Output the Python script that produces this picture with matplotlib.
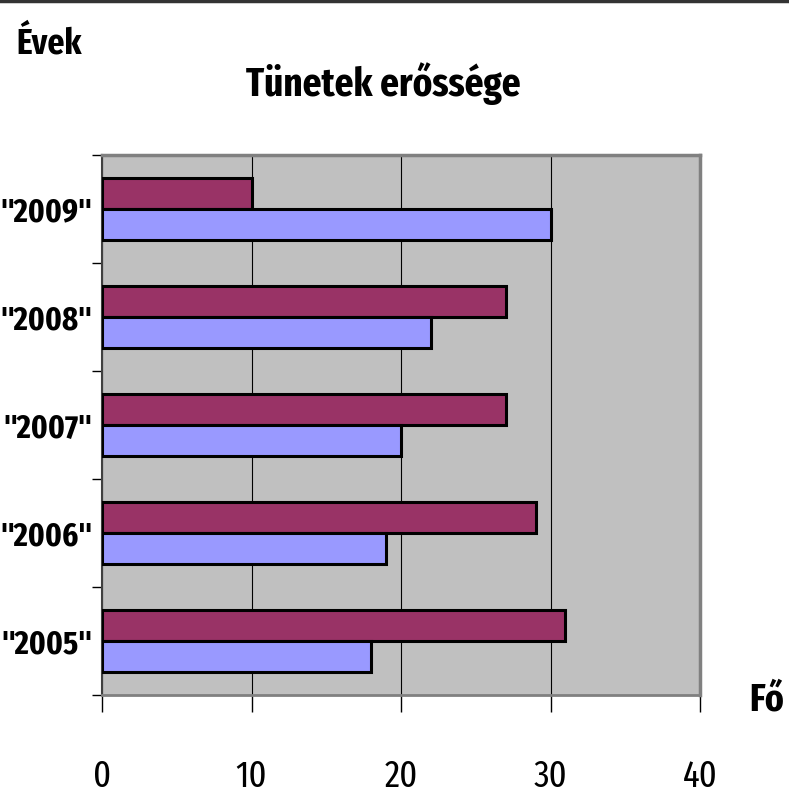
import matplotlib
matplotlib.use("Agg")
import matplotlib.pyplot as plt
import numpy as np
from matplotlib.lines import Line2D

categories = ['"2005"', '"2006"', '"2007"', '"2008"', '"2009"']
series_purple = [31, 29, 27, 27, 10]
series_blue = [18, 19, 20, 22, 30]
xticks = [0, 10, 20, 30, 40]

FONT = ['Fira Sans Extra Condensed', 'Roboto Condensed', 'DejaVu Sans']
plt.rcParams['font.family'] = FONT

fig = plt.figure(figsize=(7.89, 7.99), dpi=100)
ax = fig.add_axes([102/789, 1-695/799, (700-102)/789, (695-155)/799])
ax.set_facecolor('#C0C0C0')

y = np.arange(len(categories))
h = 0.287
ax.barh(y + h/2, series_purple, height=h, color='#993366', edgecolor='black', linewidth=2.2, zorder=3)
ax.barh(y - h/2, series_blue, height=h, color='#9999FF', edgecolor='black', linewidth=2.2, zorder=3)

ax.set_xlim(0, 40)
ax.set_ylim(-0.5, len(categories) - 0.5)
ax.set_xticks(xticks)
ax.set_xticklabels([str(t) for t in xticks], fontsize=27)
ax.tick_params(axis='x', length=12, width=1, pad=34, direction='out', colors='black')
ax.set_yticks(np.arange(len(categories) + 1) - 0.5)
ax.set_yticklabels([])
ax.set_yticks(y, minor=True)
ax.set_yticklabels(categories, minor=True, fontsize=24, fontweight='bold')
ax.tick_params(axis='y', which='major', length=7, width=1, direction='out')
ax.tick_params(axis='y', which='minor', length=0, pad=7)
ax.xaxis.grid(True, color='black', linewidth=0.8, zorder=1)
ax.set_axisbelow(True)

for s in ['top', 'right']:
    ax.spines[s].set_color('#808080')
    ax.spines[s].set_linewidth(2.5)
ax.spines['left'].set_color('#404040')
ax.spines['left'].set_linewidth(1.5)
ax.spines['bottom'].set_color('#808080')
ax.spines['bottom'].set_linewidth(2)

fig.text(383/789, 1-84/799, 'Tünetek erőssége', ha='center', va='center', fontsize=29, fontweight='bold')
fig.text(49/789, 1-44/799, 'Évek', ha='center', va='center', fontsize=26, fontweight='bold')
fig.text(767/789, 1-700/799, 'Fő', ha='center', va='center', fontsize=28, fontweight='bold')

fig.add_artist(Line2D([0, 1], [1-1/799, 1-1/799], transform=fig.transFigure, color='#333333', linewidth=2.5))

fig.savefig('out.png', dpi=100)
